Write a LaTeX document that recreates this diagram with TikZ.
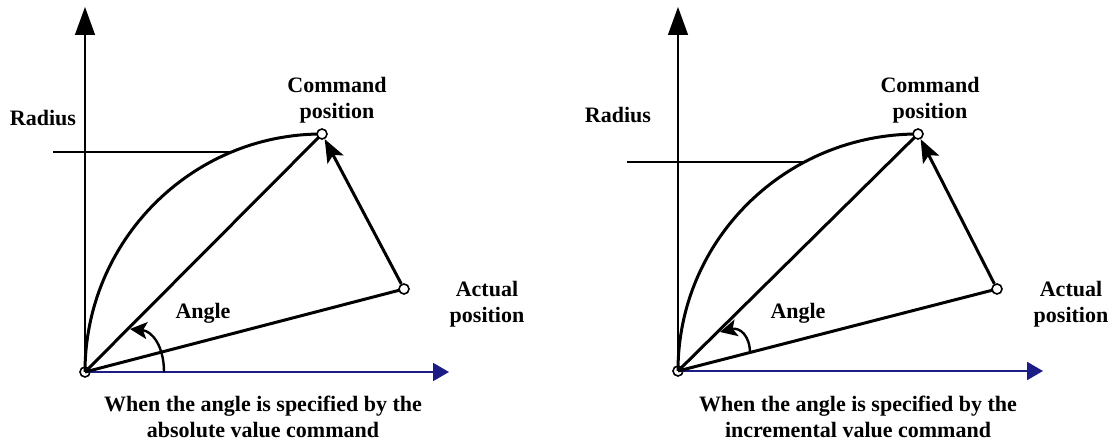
\documentclass[tikz,border=0pt]{standalone}
\usepackage{fontspec}
\setmainfont{Liberation Serif}
\usetikzlibrary{arrows.meta}
\definecolor{axisblue}{RGB}{28,28,135}
\tikzset{
  lbl/.style={font=\fontsize{22}{26}\selectfont\bfseries, align=center, inner sep=0pt},
  pt/.style={circle, draw, line width=1.6pt, fill=white, minimum size=10pt, inner sep=0pt},
  thick line/.style={line width=3pt},
  vaxis/.style={line width=1.4pt, -{Triangle[length=28pt,width=20pt]}},
  haxis/.style={draw=axisblue, line width=2pt, -{Triangle[length=16pt,width=18pt]}},
  radline/.style={line width=1.1pt},
  movearrow/.style={line width=3pt, -{Stealth[length=23pt,width=18pt,inset=5pt]}},
  anglearrow/.style={line width=2.4pt, -{Stealth[length=17pt,width=17pt,inset=4pt]}}
}
\begin{document}
\begin{tikzpicture}[x=1pt,y=-1pt]
\useasboundingbox (0,0) rectangle (1114,443);
% ---------------- left panel ----------------
\node[pt] (O1) at (85,372) {};
\coordinate (Y1) at (85,7);
\coordinate (X1) at (449,372);
\draw[vaxis] (O1.center) -- (Y1);
\draw[haxis] (O1.center) -- (X1);
\coordinate (R1a) at (53,152);
\coordinate (R1b) at (234,152);
\draw[radline] (R1a) -- (R1b);
\coordinate (C1p) at (322,134);
\coordinate (A1p) at (404,289);
\draw[thick line] (O1.center) .. controls (85,241) and (191,134) .. (C1p);
\draw[thick line] (O1.center) -- (C1p);
\draw[thick line] (O1.center) -- (A1p);
\node[pt] (C1) at (C1p) {};
\node[pt] (A1) at (A1p) {};
\draw[movearrow] (A1) -- (C1);
\coordinate (G1a) at (164,372);
\coordinate (G1b) at (130,329);
\draw[anglearrow] (G1a) .. controls (164,346) and (152,331) .. (G1b);
\node[lbl] (rad1) at (43,118) {Radius};
\node[lbl] (cmd1) at (337,100) {Command\\position};
\node[lbl] (ang1) at (203,313) {Angle};
\node[lbl] (act1) at (487,304) {Actual\\position};
\node[lbl] (cap1) at (263,417) {When the angle is specified by the\\absolute value command};
% ---------------- right panel ----------------
\node[pt] (O2) at (678,371) {};
\coordinate (Y2) at (678,7);
\coordinate (X2) at (1043,371);
\draw[vaxis] (O2.center) -- (Y2);
\draw[haxis] (O2.center) -- (X2);
\coordinate (R2a) at (627,162);
\coordinate (R2b) at (803,162);
\draw[radline] (R2a) -- (R2b);
\coordinate (C2p) at (918,134);
\coordinate (A2p) at (997,289);
\draw[thick line] (O2.center) .. controls (678,240) and (785,134) .. (C2p);
\draw[thick line] (O2.center) -- (C2p);
\draw[thick line] (O2.center) -- (A2p);
\node[pt] (C2) at (C2p) {};
\node[pt] (A2) at (A2p) {};
\draw[movearrow] (A2) -- (C2);
\coordinate (G2a) at (750,353);
\coordinate (G2b) at (720,332);
\draw[anglearrow] (G2a) .. controls (750,336) and (740,327) .. (G2b);
\node[lbl] (rad2) at (618,115) {Radius};
\node[lbl] (cmd2) at (930,100) {Command\\position};
\node[lbl] (ang2) at (798,313) {Angle};
\node[lbl] (act2) at (1071,304) {Actual\\position};
\node[lbl] (cap2) at (858,417) {When the angle is specified by the\\incremental value command};
\end{tikzpicture}
\end{document}
